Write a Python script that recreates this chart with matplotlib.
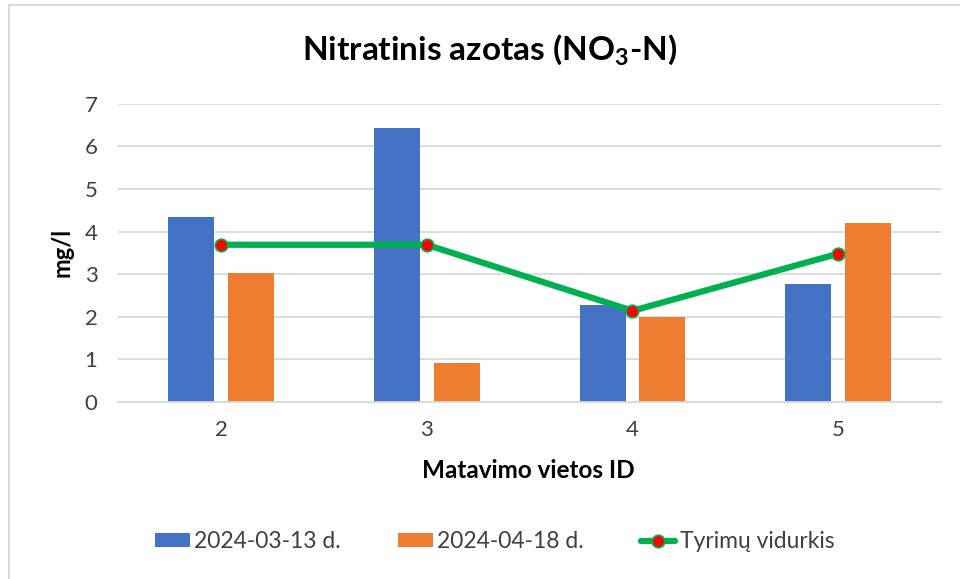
import matplotlib
matplotlib.use("Agg")
import matplotlib.pyplot as plt
import numpy as np
from matplotlib.patches import Rectangle

plt.rcParams['font.family'] = ['Lato', 'DejaVu Sans']
plt.rcParams['mathtext.default'] = 'regular'

categories = ['2', '3', '4', '5']
series1_label = '2024-03-13 d.'
series2_label = '2024-04-18 d.'
line_label = 'Tyrimų vidurkis'
series1 = [4.33, 6.42, 2.27, 2.76]
series2 = [3.03, 0.92, 2.00, 4.20]
average = [3.69, 3.69, 2.14, 3.48]
yticks = [0, 1, 2, 3, 4, 5, 6, 7]

W, H = 960, 579
fig = plt.figure(figsize=(W / 100, H / 100), dpi=100)
ax = fig.add_axes([118.3 / W, 1 - 402 / H, (941 - 118.3) / W, (402 - 103.7) / H])

x = np.arange(len(categories))
bw = 0.224
off = 0.145
b1 = ax.bar(x - off, series1, bw, color='#4472C4', zorder=2, label=series1_label)
b2 = ax.bar(x + off, series2, bw, color='#ED7D31', zorder=2, label=series2_label)
ln, = ax.plot(x, average, color='#00B050', lw=4.5, marker='o', markersize=9,
              markerfacecolor='#FF0000', markeredgecolor='#00B050', markeredgewidth=1.2,
              zorder=3, solid_capstyle='round', label=line_label)

ax.set_xlim(-0.5, 3.5)
ax.set_ylim(0, 7)
ax.set_yticks(yticks)
ax.set_yticklabels([str(v) for v in yticks])
ax.set_xticks(x)
ax.set_xticklabels(categories)
ax.grid(axis='y', color='#D9D9D9', lw=1.3, zorder=0)
ax.set_axisbelow(True)
for s in ['top', 'right', 'left']:
    ax.spines[s].set_visible(False)
ax.spines['bottom'].set_color('#D9D9D9')
ax.spines['bottom'].set_linewidth(1.3)
ax.tick_params(axis='both', length=0, labelsize=16, colors='#404040', labelcolor='#404040')
ax.tick_params(axis='y', pad=15)
ax.tick_params(axis='x', pad=13)

fig.text(490 / W, 1 - 50 / H, 'Nitratinis azotas (NO$_3$-N)', ha='center', va='center',
         fontsize=24, fontweight='bold', color='black')
fig.text(528 / W, 1 - 471 / H, 'Matavimo vietos ID', ha='center', va='center',
         fontsize=17.5, fontweight='bold', color='black')
fig.text(62 / W, 1 - 252 / H, 'mg/l', ha='center', va='center', rotation=90,
         fontsize=17, fontweight='bold', color='black')

leg = fig.legend([b1, b2, ln], [series1_label, series2_label, line_label], loc='center',
                 bbox_to_anchor=(495 / W, 1 - 542 / H),
                 ncol=3, frameon=False, fontsize=16.5, handlelength=1.5, handleheight=0.55,
                 handletextpad=0.2, columnspacing=2.5, labelcolor='#404040')

fig.patches.append(Rectangle((9 / W, -0.05), 1.1, 1 - 5 / H + 0.05, transform=fig.transFigure,
                             fill=False, edgecolor='#D9D9D9', lw=1.5))

fig.savefig('out.png', dpi=100)
